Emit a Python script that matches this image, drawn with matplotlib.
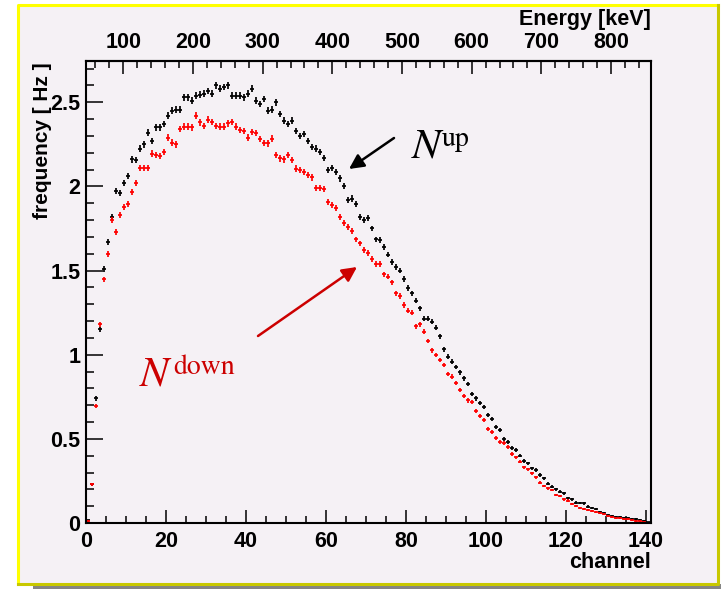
import numpy as np
import matplotlib
matplotlib.use("Agg")
import matplotlib.pyplot as plt
from matplotlib.patches import Rectangle
from matplotlib.lines import Line2D
from matplotlib.ticker import MultipleLocator, FixedLocator

# ---------------- data ----------------
channels = list(range(0, 141))

n_up = [0.015, 0.23, 0.74, 1.15, 1.51, 1.67, 1.82, 1.97, 1.96, 2.02,
        2.06, 2.16, 2.155, 2.225, 2.25, 2.32, 2.27, 2.35, 2.35, 2.37,
        2.42, 2.45, 2.455, 2.455, 2.53, 2.53, 2.51, 2.54, 2.545, 2.55,
        2.567, 2.55, 2.60, 2.58, 2.59, 2.60, 2.54, 2.54, 2.54, 2.53,
        2.55, 2.58, 2.51, 2.49, 2.52, 2.45, 2.455, 2.50, 2.43, 2.39,
        2.37, 2.39, 2.33, 2.30, 2.31, 2.27, 2.235, 2.225, 2.205, 2.17,
        2.096, 2.11, 2.086, 2.047, 2.00, 1.92, 1.928, 1.894, 1.82, 1.80,
        1.813, 1.75, 1.685, 1.68, 1.64, 1.595, 1.55, 1.52, 1.50, 1.45,
        1.397, 1.364, 1.32, 1.275, 1.215, 1.215, 1.195, 1.16, 1.11, 1.031,
        0.988, 0.958, 0.928, 0.895, 0.859, 0.825, 0.766, 0.740, 0.714, 0.691,
        0.643, 0.617, 0.572, 0.552, 0.50, 0.483, 0.445, 0.434, 0.40, 0.368,
        0.354, 0.325, 0.315, 0.285, 0.265, 0.232, 0.216, 0.200, 0.186, 0.176,
        0.147, 0.141, 0.121, 0.119, 0.117, 0.097, 0.091, 0.083, 0.067, 0.057,
        0.048, 0.042, 0.037, 0.034, 0.031, 0.028, 0.025, 0.022, 0.018, 0.010,
        0.004]

n_down = [0.012, 0.23, 0.695, 1.18, 1.447, 1.60, 1.80, 1.73, 1.83, 1.875,
          1.894, 1.967, 2.02, 2.11, 2.11, 2.11, 2.195, 2.186, 2.18, 2.205,
          2.29, 2.26, 2.25, 2.34, 2.355, 2.355, 2.35, 2.42, 2.38, 2.36,
          2.397, 2.383, 2.36, 2.355, 2.355, 2.374, 2.383, 2.355, 2.334, 2.328,
          2.29, 2.324, 2.318, 2.28, 2.258, 2.255, 2.284, 2.185, 2.166, 2.16,
          2.185, 2.156, 2.106, 2.096, 2.086, 2.066, 2.053, 1.993, 1.988, 1.983,
          1.908, 1.888, 1.869, 1.819, 1.783, 1.760, 1.736, 1.685, 1.661, 1.621,
          1.605, 1.57, 1.538, 1.538, 1.477, 1.463, 1.429, 1.364, 1.348, 1.295,
          1.261, 1.249, 1.170, 1.182, 1.136, 1.081, 1.027, 0.998, 0.968, 0.938,
          0.885, 0.869, 0.833, 0.79, 0.754, 0.728, 0.720, 0.667, 0.633, 0.610,
          0.560, 0.542, 0.506, 0.480, 0.477, 0.450, 0.410, 0.390, 0.364, 0.331,
          0.319, 0.295, 0.271, 0.239, 0.220, 0.206, 0.196, 0.166, 0.160, 0.141,
          0.133, 0.113, 0.101, 0.091, 0.083, 0.077, 0.072, 0.067, 0.061, 0.052,
          0.042, 0.037, 0.032, 0.028, 0.024, 0.022, 0.018, 0.014, 0.010, 0.006,
          0.002]

energy_ticks = [100, 200, 300, 400, 500, 600, 700, 800]
E0, dE = 46.4, 5.742   # keV offset and keV per channel

# ---------------- figure ----------------
W, H = 721, 589
fig = plt.figure(figsize=(W / 100, H / 100), dpi=100)
fig.patch.set_facecolor("white")

def fx(px):
    return px / W

def fy(py):
    return 1 - py / H

bg = "#f5f1f5"
fig.patches.append(Rectangle((fx(33), fy(589)), fx(721 - 33), 5 / H,
                             transform=fig.transFigure, facecolor="#858585",
                             edgecolor="none", zorder=-20))
fig.patches.append(Rectangle((fx(18), fy(584)), fx(700), 579 / H,
                             transform=fig.transFigure, facecolor=bg,
                             edgecolor="none", zorder=-20))
yel, olive = "#ffff00", "#c8c800"
fig.lines.append(Line2D([fx(18), fx(18), fx(718)], [fy(584), fy(5), fy(5)],
                        transform=fig.transFigure, color=yel, lw=2.2,
                        zorder=-10))
fig.lines.append(Line2D([fx(18), fx(718), fx(718)], [fy(584), fy(584), fy(5)],
                        transform=fig.transFigure, color=olive, lw=2.2,
                        zorder=-10))

ax = fig.add_axes([fx(86), fy(523), fx(651) - fx(86), (523 - 61) / H])
ax.set_zorder(5)
ax.set_facecolor(bg)

x = np.array(channels) + 0.5
up = np.array(n_up)
dn = np.array(n_down)
ax.errorbar(x, up, xerr=0.55, yerr=0.010 * np.sqrt(up) + 0.004, fmt="none",
            ecolor="black", elinewidth=1.25, capsize=0)
ax.errorbar(x, dn, xerr=0.55, yerr=0.010 * np.sqrt(dn) + 0.004, fmt="none",
            ecolor="#ff0000", elinewidth=1.25, capsize=0)

ax.set_xlim(0, 141.25)
ax.set_ylim(0, 2.745)

ax.xaxis.set_major_locator(MultipleLocator(20))
ax.xaxis.set_minor_locator(MultipleLocator(5))
ax.yaxis.set_major_locator(MultipleLocator(0.5))
ax.yaxis.set_minor_locator(MultipleLocator(0.1))
ax.tick_params(axis="x", which="major", direction="in", length=9.5, width=1.1,
               pad=6, top=False)
ax.tick_params(axis="x", which="minor", direction="in", length=4.8, width=1.1,
               top=False)
ax.tick_params(axis="y", which="major", direction="in", length=12, width=1.1,
               pad=4, right=False)
ax.tick_params(axis="y", which="minor", direction="in", length=6, width=1.1,
               right=False)

def yfmt(v, pos):
    if abs(v) < 1e-9:
        return "0"
    if abs(v - round(v)) < 1e-9:
        return "%d" % round(v)
    return "%g" % v
ax.yaxis.set_major_formatter(plt.FuncFormatter(yfmt))

for lab in ax.get_xticklabels() + ax.get_yticklabels():
    lab.set_fontfamily("Liberation Sans")
    lab.set_fontweight("bold")
    lab.set_fontsize(15.5)

for s in ax.spines.values():
    s.set_linewidth(1.5)
    s.set_color("black")

secax = ax.secondary_xaxis("top", functions=(lambda c: E0 + dE * c,
                                              lambda e: (e - E0) / dE))
secax.xaxis.set_major_locator(FixedLocator(energy_ticks))
secax.xaxis.set_minor_locator(MultipleLocator(20))
secax.tick_params(axis="x", which="major", direction="in", length=9.5,
                  width=1.1, pad=6)
secax.tick_params(axis="x", which="minor", direction="in", length=4.8,
                  width=1.1)
secax.spines["top"].set_linewidth(1.5)
for lab in secax.get_xticklabels():
    lab.set_fontfamily("Liberation Sans")
    lab.set_fontweight("bold")
    lab.set_fontsize(15.5)

fig.text(fx(651), fy(25), "Energy [keV]", ha="right", va="baseline",
         fontfamily="Liberation Sans", fontweight="bold", fontsize=15.5)
fig.text(fx(651), fy(568), "channel", ha="right", va="baseline",
         fontfamily="Liberation Sans", fontweight="bold", fontsize=15.5)
fig.text(fx(43), fy(62), "frequency [ Hz ]", ha="center", va="top",
         rotation=90, fontfamily="Liberation Sans", fontweight="bold",
         fontsize=15)

red = "#cc0000"
serif = "STIXGeneral"
fig.text(fx(412), fy(157), "N", ha="left", va="baseline", fontsize=31,
         fontfamily=serif, fontstyle="italic", color="black", zorder=10)
fig.text(fx(442), fy(146), "up", ha="left", va="baseline", fontsize=20,
         fontfamily=serif, color="black", zorder=10)
fig.text(fx(140), fy(386), "N", ha="left", va="baseline", fontsize=31,
         fontfamily=serif, fontstyle="italic", color=red, zorder=10)
fig.text(fx(173), fy(374), "down", ha="left", va="baseline", fontsize=20,
         fontfamily=serif, color=red, zorder=10)

ax.annotate("", xy=(fx(349), fy(169)), xycoords="figure fraction",
            xytext=(fx(394), fy(138)), textcoords="figure fraction",
            arrowprops=dict(arrowstyle="-|>", color="black", lw=1.8,
                            mutation_scale=22, shrinkA=0, shrinkB=0))
ax.annotate("", xy=(fx(357), fy(267)), xycoords="figure fraction",
            xytext=(fx(258), fy(336)), textcoords="figure fraction",
            arrowprops=dict(arrowstyle="-|>", color=red, lw=1.8,
                            mutation_scale=22, shrinkA=0, shrinkB=0))

fig.savefig("out.png", dpi=100, facecolor=fig.get_facecolor())
